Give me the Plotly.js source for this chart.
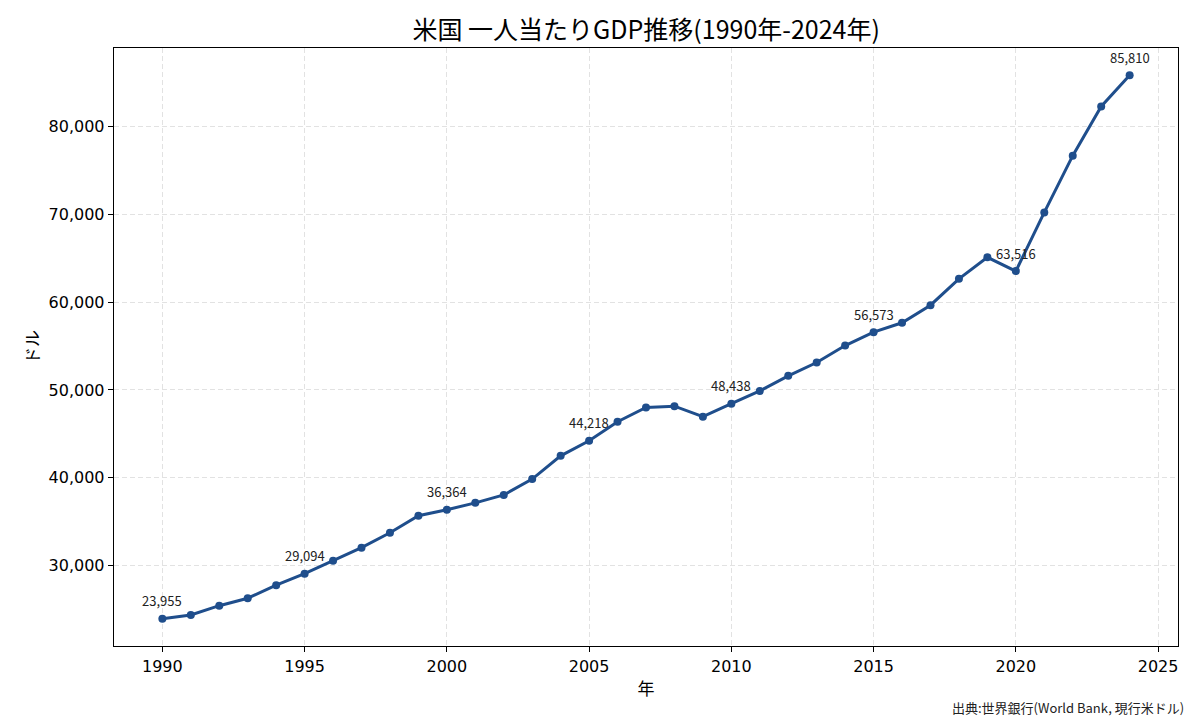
<!DOCTYPE html>
<html>
<head>
<meta charset="utf-8">
<script src="https://cdn.plot.ly/plotly-3.0.1.min.js"></script>
<style>html,body{margin:0;padding:0;background:#fff;}#chart{width:1200px;height:720px;}</style>
</head>
<body>
<div id="chart"></div>
<script>
const years = [1990,1991,1992,1993,1994,1995,1996,1997,1998,1999,2000,2001,2002,2003,2004,2005,2006,2007,2008,2009,2010,2011,2012,2013,2014,2015,2016,2017,2018,2019,2020,2021,2022,2023,2024];
const gdpPerCapita = [23955,24400,25450,26300,27780,29094,30570,32050,33750,35680,36364,37150,38050,39850,42500,44218,46380,48000,48150,46950,48438,49880,51600,53120,55050,56573,57640,59640,62640,65090,63516,70200,76650,82250,85810];
const labelYears = [1990,1995,2000,2005,2010,2015,2020,2024];
const xTicks = [1990,1995,2000,2005,2010,2015,2020,2025];
const yTicks = [30000,40000,50000,60000,70000,80000];
const titleText = "米国 一人当たりGDP推移(1990年-2024年)";
const xTitle = "年";
const yTitle = "ドル";
const sourceText = "出典:世界銀行(World Bank, 現行米ドル)";

const cjk = '"Noto Sans CJK JP", "Noto Sans", sans-serif';
const dv = '"DejaVu Sans", sans-serif';

const annotations = labelYears.map(y => {
  const v = gdpPerCapita[years.indexOf(y)];
  return {x: y, y: v, xref: 'x', yref: 'y', text: v.toLocaleString('en-US'),
    showarrow: false, yshift: 18, font: {family: cjk, size: 13, color: '#222'}};
});
annotations.push({xref: 'paper', yref: 'paper', x: 1.0075, y: -0.103, xanchor: 'right', yanchor: 'middle',
  text: sourceText, showarrow: false, font: {family: cjk, size: 13, color: '#222'}});

const trace = {
  x: years, y: gdpPerCapita, type: 'scatter', mode: 'lines+markers',
  line: {color: '#1f4e8c', width: 3},
  marker: {color: '#1f4e8c', size: 8},
  hoverinfo: 'skip'
};

const axisCommon = {
  showline: true, linecolor: '#000', linewidth: 1.3, mirror: true,
  ticks: 'outside', ticklen: 5, tickwidth: 1, tickcolor: '#000',
  showgrid: true, gridcolor: '#e2e2e2', griddash: '5px,3px', gridwidth: 1,
  zeroline: false,
  tickfont: {family: dv, size: 16, color: '#000'}
};

const layout = {
  width: 1200, height: 720,
  margin: {l: 114, r: 22, t: 48, b: 74},
  paper_bgcolor: '#fff', plot_bgcolor: '#fff',
  showlegend: false,
  title: {text: titleText, x: 0.5385, xanchor: 'center', y: 0.958, yanchor: 'middle',
    font: {family: cjk, size: 25, color: '#000'}},
  xaxis: Object.assign({}, axisCommon, {
    range: [1988.3, 2025.7], tickvals: xTicks, ticktext: xTicks.map(String),
    title: {text: xTitle, font: {family: cjk, size: 17, color: '#000'}, standoff: 8}
  }),
  yaxis: Object.assign({}, axisCommon, {
    range: [20862, 88903], tickvals: yTicks, ticktext: yTicks.map(v => v.toLocaleString('en-US')),
    title: {text: yTitle, font: {family: cjk, size: 17, color: '#000'}, standoff: 4}
  }),
  annotations: annotations
};

Plotly.newPlot('chart', [trace], layout, {displayModeBar: false, staticPlot: true});
</script>
</body>
</html>
